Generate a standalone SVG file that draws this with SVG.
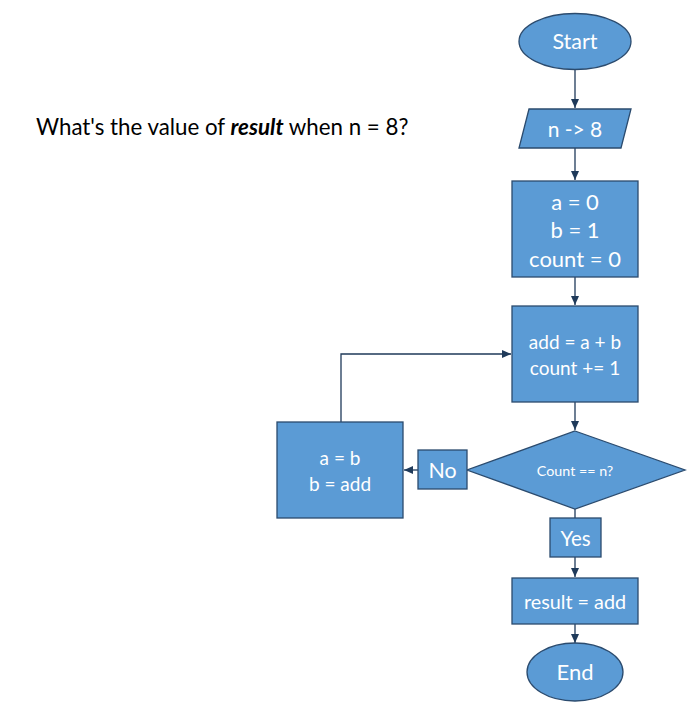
<svg xmlns="http://www.w3.org/2000/svg" width="693" height="717" viewBox="0 0 693 717">
<defs>
<marker id="ah" markerWidth="10" markerHeight="10" refX="9" refY="5" orient="auto" markerUnits="userSpaceOnUse">
<path d="M0,1 L9,5 L0,9 Z" fill="#1F3A5A"/>
</marker>
<style>
.n{fill:#5B9BD5;stroke:#2B4B6E;stroke-width:1.3}
.t{fill:#fff;font-family:Lato,"Liberation Sans",sans-serif;font-size:19px;text-anchor:middle;dominant-baseline:central}
.c{fill:none;stroke:#1F3A5A;stroke-width:1.3}
</style>
</defs>
<rect width="693" height="717" fill="#fff"/>
<text x="36" y="135" style="font-family:Lato,'Liberation Sans',sans-serif;font-size:22.3px" fill="#000">What's the value of <tspan font-weight="bold" font-style="italic">result</tspan> when n = 8?</text>
<g id="connectors">
<line class="c" x1="575" y1="70" x2="575" y2="108" marker-end="url(#ah)"/>
<line class="c" x1="575" y1="148" x2="575" y2="180" marker-end="url(#ah)"/>
<line class="c" x1="575" y1="277" x2="575" y2="305" marker-end="url(#ah)"/>
<line class="c" x1="575" y1="402" x2="575" y2="430" marker-end="url(#ah)"/>
<line class="c" x1="575" y1="509" x2="575" y2="518"/>
<line class="c" x1="575" y1="557" x2="575" y2="577" marker-end="url(#ah)"/>
<line class="c" x1="575" y1="624" x2="575" y2="643" marker-end="url(#ah)"/>
<line class="c" x1="418" y1="470" x2="404" y2="470" marker-end="url(#ah)"/>
<polyline class="c" points="341,422 341,354 511,354" marker-end="url(#ah)"/>
</g>
<g id="start"><ellipse class="n" cx="575" cy="41.5" rx="56" ry="28"/><text class="t" x="575" y="41" style="font-size:21.5px">Start</text></g>
<g id="input"><polygon class="n" points="529,109 631,109 621,148 519,148"/><text class="t" x="575" y="128" style="font-size:21px">n -&gt; 8</text></g>
<g id="init"><rect class="n" x="512" y="181" width="126" height="96"/><text class="t" x="575" y="201" style="font-size:22px">a = 0</text><text class="t" x="575" y="229" style="font-size:22px">b = 1</text><text class="t" x="575" y="258" style="font-size:22px">count = 0</text></g>
<g id="calc"><rect class="n" x="512" y="306" width="126" height="96"/><text class="t" x="575" y="341">add = a + b</text><text class="t" x="575" y="367">count += 1</text></g>
<g id="decision"><polygon class="n" points="575,431 685,470 575,509 467,470"/><text class="t" x="575" y="470" style="font-size:14.3px">Count == n?</text></g>
<g id="no"><rect class="n" x="418" y="450" width="49" height="39"/><text class="t" x="442.5" y="469.5" style="font-size:21.4px">No</text></g>
<g id="swap"><rect class="n" x="277" y="422" width="126" height="96"/><text class="t" x="340" y="457">a = b</text><text class="t" x="340" y="483">b = add</text></g>
<g id="yes"><rect class="n" x="550" y="518" width="51" height="39"/><text class="t" x="575.5" y="537.5" style="font-size:20.5px">Yes</text></g>
<g id="result"><rect class="n" x="512" y="578" width="126" height="46"/><text class="t" x="575" y="601" style="font-size:19.8px">result = add</text></g>
<g id="end"><ellipse class="n" cx="575" cy="672" rx="48" ry="29"/><text class="t" x="575" y="671" style="font-size:22px">End</text></g>
</svg>
